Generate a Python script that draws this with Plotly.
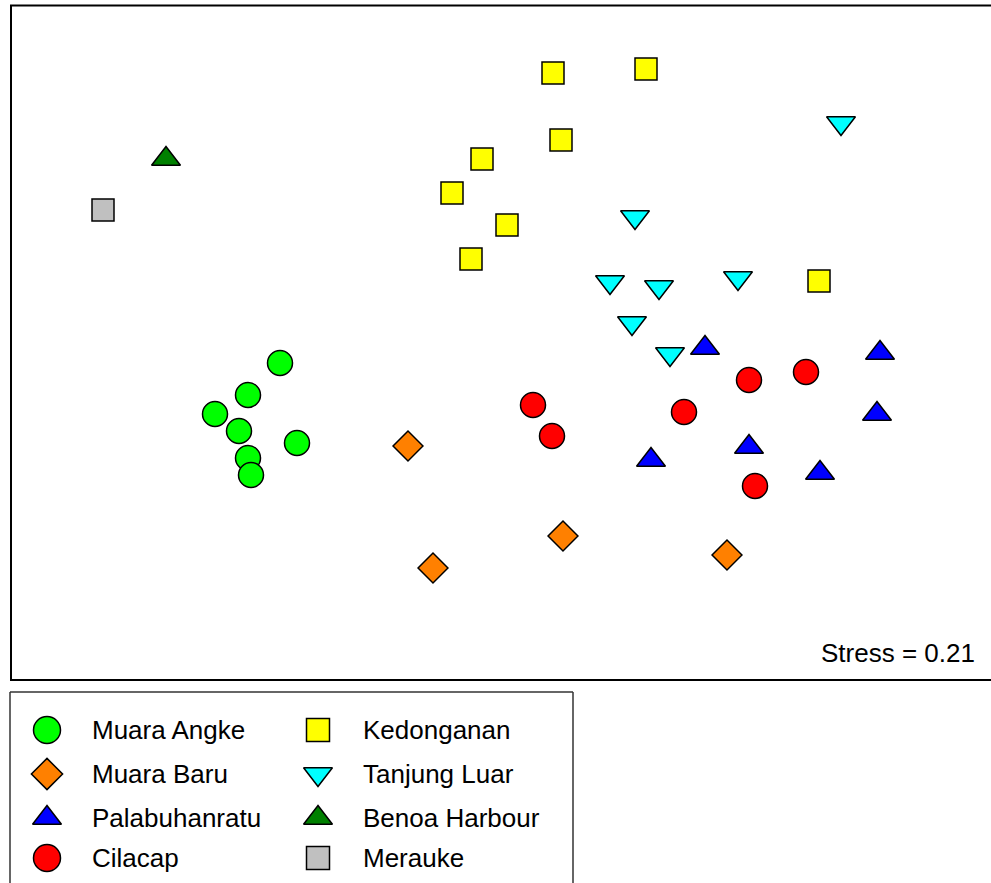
import plotly.graph_objects as go

# ---- Data (NMDS ordination, arbitrary units) ----
groups = ["Muara Angke", "Muara Baru", "Palabuhanratu", "Cilacap",
          "Kedonganan", "Tanjung Luar", "Benoa Harbour", "Merauke"]

muara_angke_x = [-2.20, -2.52, -2.85, -2.61, -2.03, -2.52, -2.49]
muara_angke_y = [-0.23, -0.55, -0.74, -0.91, -1.03, -1.18, -1.35]

muara_baru_x = [-0.92, 0.63, -0.67, 2.27]
muara_baru_y = [-1.06, -1.96, -2.28, -2.15]

palabuhanratu_x = [2.05, 3.80, 3.77, 2.49, 1.51, 3.20]
palabuhanratu_y = [-0.08, -0.13, -0.74, -1.07, -1.20, -1.33]

cilacap_x = [0.33, 0.52, 1.84, 2.49, 3.06, 2.55]
cilacap_y = [-0.65, -0.96, -0.72, -0.40, -0.32, -1.46]

kedonganan_x = [0.53, 1.46, 0.61, -0.18, -0.48, 0.07, -0.29, 3.19]
kedonganan_y = [2.67, 2.71, 2.00, 1.81, 1.47, 1.15, 0.81, 0.59]

tanjung_luar_x = [1.10, 1.59, 2.38, 1.32, 1.70, 1.35, 3.41]
tanjung_luar_y = [0.58, 0.53, 0.62, 0.17, -0.14, 1.23, 2.17]

benoa_x = [-3.34]
benoa_y = [1.81]

merauke_x = [-3.97]
merauke_y = [1.30]

stress_label = "Stress = 0.21"

# ---- Styles ----
xs = [muara_angke_x, muara_baru_x, palabuhanratu_x, cilacap_x,
      kedonganan_x, tanjung_luar_x, benoa_x, merauke_x]
ys = [muara_angke_y, muara_baru_y, palabuhanratu_y, cilacap_y,
      kedonganan_y, tanjung_luar_y, benoa_y, merauke_y]
symbols = ["circle", "diamond", "triangle-up", "circle",
           "square", "triangle-down", "triangle-up", "square"]
colors = ["#00FF00", "#FF8000", "#0000FF", "#FF0000",
          "#FFFF00", "#00FFFF", "#008000", "#C0C0C0"]
sizes = [25, 23, 25, 25, 22, 25, 25, 22]
leg_sizes = [27, 24, 25, 27, 23, 25, 25, 23]

W, H = 991, 883
FONT = "Liberation Sans, Arial, sans-serif"

fig = go.Figure()

for i, g in enumerate(groups):
    fig.add_trace(go.Scatter(
        x=xs[i], y=ys[i], mode="markers", name=g, showlegend=False,
        marker=dict(symbol=symbols[i], color=colors[i], size=sizes[i],
                    line=dict(color="black", width=1.5)),
        xaxis="x", yaxis="y", hoverinfo="name+x+y"))

# ---- Custom legend (drawn on a secondary pixel-unit axis) ----
col_marker_x = [47, 318]
col_text_x = [90, 361]
row_y = [730, 774, 818, 858]
annotations = []
for i, g in enumerate(groups):
    c, r = divmod(i, 4)
    fig.add_trace(go.Scatter(
        x=[col_marker_x[c]], y=[row_y[r]], mode="markers", showlegend=False,
        marker=dict(symbol=symbols[i], color=colors[i], size=leg_sizes[i],
                    line=dict(color="black", width=1.5)),
        xaxis="x2", yaxis="y2", hoverinfo="skip"))
    annotations.append(dict(
        x=col_text_x[c], y=row_y[r], xref="x2", yref="y2", text=g,
        showarrow=False, xanchor="left", yanchor="middle",
        font=dict(family=FONT, size=26, color="black")))

annotations.append(dict(
    x=977 / W, y=1 - 653 / H, xref="paper", yref="paper", text=stress_label,
    showarrow=False, xanchor="right", yanchor="middle",
    font=dict(family=FONT, size=26, color="black")))

x_l, y_t, y_b = 11 / W, 1 - 5.5 / H, 1 - 680 / H
lx0, lx1, ly1 = 10 / W, 573 / W, 1 - 692 / H
frame = dict(color="black", width=2)
lframe = dict(color="#333333", width=1.5)
shapes = [
    # main plot frame (right edge runs off the page)
    dict(type="line", xref="paper", yref="paper", x0=x_l, x1=x_l, y0=y_b, y1=y_t, line=frame),
    dict(type="line", xref="paper", yref="paper", x0=x_l - 1 / W, x1=1.05, y0=y_t, y1=y_t, line=frame),
    dict(type="line", xref="paper", yref="paper", x0=x_l - 1 / W, x1=1.05, y0=y_b, y1=y_b, line=frame),
    # legend box (bottom runs off the page)
    dict(type="line", xref="paper", yref="paper", x0=lx0, x1=lx0, y0=-0.05, y1=ly1, line=lframe),
    dict(type="line", xref="paper", yref="paper", x0=lx1, x1=lx1, y0=-0.05, y1=ly1, line=lframe),
    dict(type="line", xref="paper", yref="paper", x0=lx0, x1=lx1, y0=ly1, y1=ly1, line=lframe),
]

ax_common = dict(visible=False, showgrid=False, zeroline=False, fixedrange=True)
fig.update_layout(
    width=W, height=H, autosize=False,
    margin=dict(l=0, r=0, t=0, b=0),
    paper_bgcolor="white", plot_bgcolor="white",
    showlegend=False,
    xaxis=dict(domain=[11 / W, 1], range=[(11 - 500) / 100, (991 - 500) / 100], **ax_common),
    yaxis=dict(domain=[1 - 680 / H, 1 - 5.5 / H], range=[(340 - 680) / 100, (340 - 5.5) / 100], **ax_common),
    xaxis2=dict(domain=[0, 574 / W], range=[0, 574], anchor="y2", **ax_common),
    yaxis2=dict(domain=[0, 1 - 692 / H], range=[883, 692], anchor="x2", **ax_common),
    annotations=annotations,
    shapes=shapes,
    font=dict(family=FONT),
)

fig.write_html(
    "out.html",
    config={"displayModeBar": False},
    post_script="document.body.style.margin='0';document.body.style.overflow='hidden';",
)
